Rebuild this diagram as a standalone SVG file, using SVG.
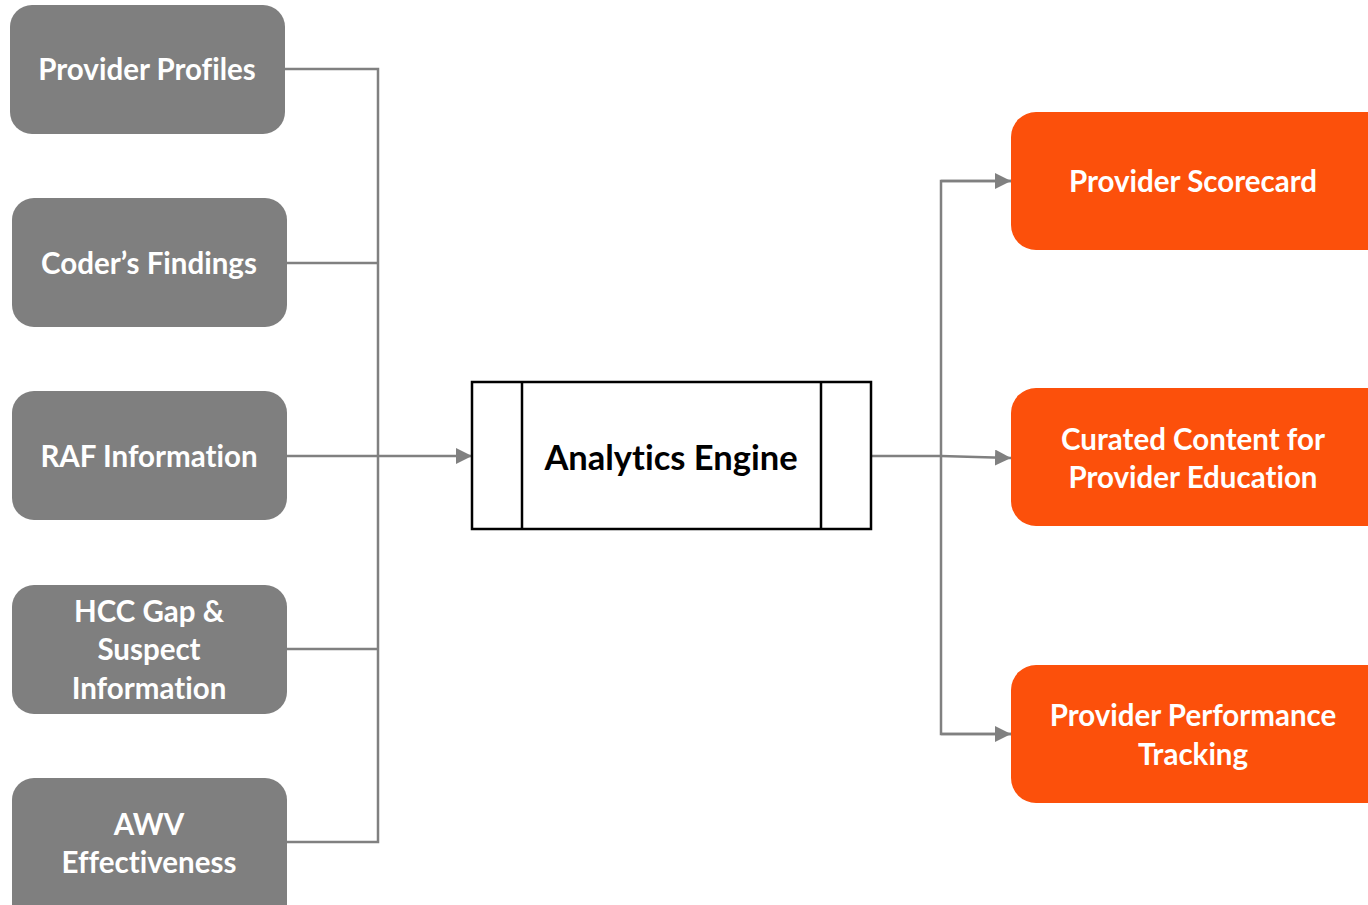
<svg xmlns="http://www.w3.org/2000/svg" width="1368" height="905" viewBox="0 0 1368 905">
  <defs>
    <marker id="arrow" viewBox="0 0 10 10" refX="10" refY="5" markerWidth="16" markerHeight="16" markerUnits="userSpaceOnUse" orient="auto">
      <path d="M0,0 L10,5 L0,10 Z" fill="#808080"/>
    </marker>
    <style>
      .src { fill: #7f7f7f; }
      .out { fill: #fc500b; }
      .lbl { font-family: Lato, "Open Sans", "Liberation Sans", sans-serif; font-weight: bold; font-size: 29.5px; fill: #ffffff; text-anchor: middle; font-variant-ligatures: none; }
      .eng { font-family: Lato, "Open Sans", "Liberation Sans", sans-serif; font-weight: bold; font-size: 34.5px; fill: #000000; text-anchor: middle; font-variant-ligatures: none; }
      .wire { fill: none; stroke: #808080; stroke-width: 2.5; }
    </style>
  </defs>
  <rect width="1368" height="905" fill="#ffffff"/>

  <!-- connectors -->
  <g id="connectors">
    <path class="wire" d="M285,69 H378 V842 H287"/>
    <path class="wire" d="M287,263 H378"/>
    <path class="wire" d="M287,649 H378"/>
    <path class="wire" d="M287,456 H378"/>
    <path class="wire" d="M378,456 H472" marker-end="url(#arrow)"/>
    <path class="wire" d="M871,456 H941 L1011,458" marker-end="url(#arrow)"/>
    <path class="wire" d="M1011,181 H941 V734 H1011"/>
    <path class="wire" d="M941,181 H1011" marker-end="url(#arrow)"/>
    <path class="wire" d="M941,734 H1011" marker-end="url(#arrow)"/>
  </g>

  <!-- input sources -->
  <g id="provider-profiles">
    <rect class="src" x="10" y="5" width="275" height="129" rx="22"/>
    <text class="lbl" x="147" y="80">Provider Profiles</text>
  </g>
  <g id="coders-findings">
    <rect class="src" x="12" y="198" width="275" height="129" rx="22"/>
    <text class="lbl" x="149" y="274">Coder’s Findings</text>
  </g>
  <g id="raf-information">
    <rect class="src" x="12" y="391" width="275" height="129" rx="22"/>
    <text class="lbl" x="149" y="467">RAF Information</text>
  </g>
  <g id="hcc-gap">
    <rect class="src" x="12" y="585" width="275" height="129" rx="22"/>
    <text class="lbl" x="149" y="622">HCC Gap &amp;</text>
    <text class="lbl" x="149" y="660">Suspect</text>
    <text class="lbl" x="149" y="699">Information</text>
  </g>
  <g id="awv-effectiveness">
    <rect class="src" x="12" y="778" width="275" height="150" rx="22"/>
    <text class="lbl" x="149" y="835">AWV</text>
    <text class="lbl" x="149" y="873">Effectiveness</text>
  </g>

  <!-- processing -->
  <g id="analytics-engine">
    <rect x="472" y="382" width="399" height="147" fill="#ffffff" stroke="#000000" stroke-width="2.5"/>
    <line x1="522" y1="382" x2="522" y2="529" stroke="#000000" stroke-width="2.5"/>
    <line x1="821" y1="382" x2="821" y2="529" stroke="#000000" stroke-width="2.5"/>
    <text class="eng" x="671" y="470">Analytics Engine</text>
  </g>

  <!-- outputs -->
  <g id="provider-scorecard">
    <rect class="out" x="1011" y="112" width="380" height="138" rx="25"/>
    <text class="lbl" x="1193" y="192">Provider Scorecard</text>
  </g>
  <g id="curated-content">
    <rect class="out" x="1011" y="388" width="380" height="138" rx="25"/>
    <text class="lbl" x="1193" y="450">Curated Content for</text>
    <text class="lbl" x="1193" y="488">Provider Education</text>
  </g>
  <g id="performance-tracking">
    <rect class="out" x="1011" y="665" width="380" height="138" rx="25"/>
    <text class="lbl" x="1193" y="726">Provider Performance</text>
    <text class="lbl" x="1193" y="765">Tracking</text>
  </g>
</svg>
